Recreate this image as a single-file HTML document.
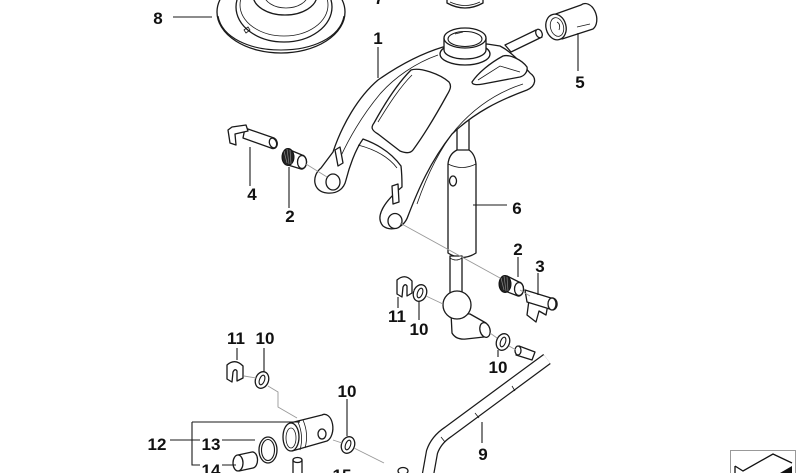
<!DOCTYPE html>
<html><head><meta charset="utf-8"><style>
html,body{margin:0;padding:0;background:#fff;}
svg{display:block;}
text{font-family:"Liberation Sans",Arial,sans-serif;font-weight:bold;font-size:17px;fill:#111;text-anchor:middle;}
.p{fill:#fff;stroke:#1a1a1a;stroke-width:1.3;stroke-linejoin:round;stroke-linecap:round;}
.l{fill:none;stroke:#1a1a1a;stroke-width:1.1;}
.t{fill:none;stroke:#1a1a1a;stroke-width:0.8;}
.c{fill:none;stroke:#999;stroke-width:0.9;}
</style></head><body>
<svg width="799" height="473" viewBox="0 0 799 473" xmlns="http://www.w3.org/2000/svg">
<!-- Part 8 boot -->
<ellipse class="p" cx="281" cy="12" rx="64" ry="41"/>
<path class="l" d="M218,16 C222,38 250,50 281,50 C312,50 340,38 344,16"/>
<ellipse class="p" cx="284" cy="7" rx="48" ry="35"/>
<ellipse class="t" cx="284" cy="5" rx="44" ry="31"/>
<ellipse class="p" cx="285" cy="-5" rx="32" ry="20"/>
<ellipse class="t" cx="286" cy="-6" rx="22" ry="14"/>
<path class="t" d="M244,30 l4,-3 l2,3 l-4,3z"/>
<!-- Part 7 -->
<path class="p" d="M447,-2 L447,3 Q465,13 483,3 L483,-2 Z"/>
<path class="t" d="M450,2 Q465,9 480,2"/>
<!-- Part 5 sleeve -->
<path class="p" d="M550,16 L581,5 A9 13 -15 0 1 593,29 L562,39 Z"/>
<ellipse class="p" cx="556" cy="27" rx="10" ry="13" transform="rotate(-15 556 27)"/>
<ellipse class="t" cx="557" cy="27" rx="6.5" ry="9.5" transform="rotate(-15 557 27)"/>
<path class="t" d="M557,22 q4,2 2,8"/>
<path class="t" d="M577,27 L590,24"/>
<!-- Part 6 rod -->
<rect class="p" x="457" y="95" width="12" height="60"/>
<path class="p" d="M457,150 Q449,154 448,164 L448,253 Q462,262 476,253 L476,164 Q475,154 469,150 Z"/>
<path class="t" d="M448,164 Q462,171 476,164"/>
<ellipse class="p" cx="453" cy="181" rx="3.5" ry="5"/>
<rect class="p" x="450" y="256" width="12" height="38"/>
<path class="t" d="M450,258 Q456,262 462,258"/>
<path class="p" d="M451,313 L452,333 Q456,340 466,339 L484,337 L486,323 L470,314 Z"/>
<ellipse class="p" cx="485" cy="330" rx="5" ry="7.5" transform="rotate(-15 485 330)"/>
<circle class="p" cx="457" cy="305" r="14"/>
<!-- Part 1 bracket -->
<path class="p" d="M443,47 C420,54 398,66 378,80 C358,97 342,125 333,152 L321,168 C311,176 313,192 327,193 C337,194 344,189 346,180 C349,168 355,150 363,139 Q388,148 401,166 C402,175 402,182 402,187 C386,200 374,216 383,226 C391,232 404,228 408,216 C418,190 430,162 452,134 C475,112 500,100 527,90 C536,86 537,78 530,73 C522,64 512,52 500,46 L487,44 Z"/>
<path class="t" d="M438,55 C415,63 394,78 380,94 C365,112 352,132 340,158"/>
<path class="t" d="M523,84 C498,92 475,107 456,129 C438,151 426,178 417,204"/>
<path class="t" d="M358,145 Q385,152 397,168"/>
<path class="p" d="M374,123 C385,103 398,83 411,70 C420,67 440,74 449,82 C452,86 450,90 447,95 C436,115 424,135 413,150 C410,154 405,153 400,151 L378,134 C371,130 371,127 374,123 Z"/>
<path class="t" d="M378,122 C389,104 400,87 412,75"/>
<path class="p" d="M335,150 l5,-3 l3,16 l-5,3 z"/>
<path class="p" d="M392,186 l6,-2 l1,18 l-6,2 z"/>
<ellipse class="p" cx="333" cy="182" rx="7" ry="8"/>
<ellipse class="p" cx="395" cy="221" rx="7" ry="7.5"/>
<path class="p" d="M472,82 C478,73 490,63 503,56 C510,54 522,60 527,67 C528,72 524,76 520,77 L483,84 C477,85 472,85 472,82 Z"/>
<path class="t" d="M478,80 L500,66 L520,72"/>
<!-- ring -->
<ellipse class="p" cx="465" cy="54" rx="25" ry="11"/>
<path class="p" d="M444,38 L444,50 A21 9 0 0 0 486,50 L486,38 Z"/>
<ellipse class="p" cx="465" cy="38" rx="21" ry="10"/>
<ellipse class="l" cx="465" cy="39" rx="17" ry="7.5"/>
<path class="t" d="M455,34 L463,32"/>
<!-- rod from ring -->
<path class="p" d="M505,45 L536,30 L542,37 L511,52 Z"/>
<ellipse class="p" cx="539" cy="33.5" rx="3" ry="4.5" transform="rotate(-25 539 33.5)"/>
<!-- Part 4 -->
<path class="p" d="M245,128 L274,138 A4.5 5.5 -20 0 1 271,148 L243,138 Z"/>
<ellipse class="p" cx="273" cy="143" rx="3.5" ry="5" transform="rotate(-20 273 143)"/>
<path class="p" d="M228,130 L230,143 L236,145 L235,134 L248,131 L246,125 L232,127 Z"/>
<!-- Part 2 upper -->
<path class="p" d="M290,150 L302,155 A5 7 0 0 1 301,169 L288,165 Z"/>
<ellipse cx="288" cy="157" rx="6" ry="8.5" fill="#222" stroke="#111"/>
<path d="M284,151 l3,12 M287,149 l2,15 M290,150 l1,14" stroke="#888" stroke-width="0.7"/>
<ellipse class="p" cx="302" cy="162" rx="4.5" ry="6.5"/>
<!-- Part 2 lower -->
<path class="p" d="M507,276 L519,282 A5 7 0 0 1 518,296 L505,291 Z"/>
<ellipse cx="505" cy="284" rx="6" ry="8.5" fill="#222" stroke="#111"/>
<path d="M501,278 l3,12 M504,276 l2,15 M507,277 l1,14" stroke="#888" stroke-width="0.7"/>
<ellipse class="p" cx="519" cy="289" rx="4.5" ry="6.5"/>
<!-- Part 3 -->
<path class="p" d="M529,300 L527,315 L536,322 L539,311 L546,315 L548,304 Z"/>
<path class="p" d="M525,290 L551,298 A5 6 0 0 1 553,310 L527,302 Z"/>
<ellipse class="p" cx="552" cy="304" rx="4" ry="6"/>
<!-- Part 11 clips -->
<path class="p" d="M397,280 L397,294 L402,297 L403,287 Q405,283 407,286 L407,296 L412,293 L412,281 Q405,273 397,280 Z"/>
<path class="p" d="M227,365 L227,379 L232,382 L233,372 Q235,368 237,371 L237,381 L243,378 L243,366 Q235,358 227,365 Z"/>
<!-- washers 10 -->
<g transform="translate(420,293) rotate(20)"><ellipse class="p" rx="6.5" ry="8.5"/><ellipse class="l" rx="2.5" ry="5"/></g>
<g transform="translate(503,342) rotate(20)"><ellipse class="p" rx="6.5" ry="8.5"/><ellipse class="l" rx="2.5" ry="5"/></g>
<g transform="translate(262,380) rotate(20)"><ellipse class="p" rx="6.5" ry="8.5"/><ellipse class="l" rx="2.5" ry="5"/></g>
<g transform="translate(348,445) rotate(20)"><ellipse class="p" rx="6.5" ry="8.5"/><ellipse class="l" rx="2.5" ry="5"/></g>
<!-- Part 9 rod -->
<path d="M427,480 L432,452 Q436,440 448,432 L547,359" fill="none" stroke="#1a1a1a" stroke-width="12.5"/>
<path d="M427,480 L432,452 Q436,440 448,432 L547,359" fill="none" stroke="#fff" stroke-width="10"/>
<path class="t" d="M441,437 l4,5 M475,413 l4,5 M512,386 l3,5"/>
<path class="p" d="M519,346 L535,352 L532,360 L516,355 Z"/>
<ellipse class="p" cx="518" cy="350.5" rx="3" ry="4.5"/>
<ellipse class="p" cx="403" cy="471" rx="5" ry="3.5"/>
<!-- Part 12 sleeve -->
<path class="p" d="M290,423 L322,415 A8 13 0 0 1 327,441 L292,451 Z"/>
<ellipse class="p" cx="291" cy="437" rx="8" ry="14"/>
<ellipse class="t" cx="291" cy="438" rx="5" ry="10"/>
<path class="t" d="M298,422 Q304,436 300,450 M303,420 Q309,434 305,448"/>
<ellipse class="p" cx="322" cy="434" rx="4" ry="5"/>
<!-- Part 13 ring -->
<ellipse class="p" cx="268" cy="450" rx="9" ry="13"/>
<ellipse class="l" cx="268" cy="450" rx="6.5" ry="10.5"/>
<!-- Part 14 -->
<path class="p" d="M238,455 L252,452 A5 8 0 0 1 253,468 L239,471 Z"/>
<ellipse class="p" cx="238" cy="463" rx="5" ry="8"/>
<!-- Part 15 -->
<path class="p" d="M293,460 L293,480 L302,480 L302,460 Z"/>
<ellipse class="p" cx="297.5" cy="460" rx="4.5" ry="2.5"/>
<!-- connectors -->
<path class="c" d="M400,223 L500,278 M520,290 L530,296"/>
<path class="c" d="M306,164 L327,177"/>
<path class="c" d="M413,290 L414,291 M426,296 L443,304"/>
<path class="c" d="M490,333 L497,338 M509,346 L516,350"/>
<path class="c" d="M244,376 L256,378 M268,386 L278,392 L278,407 L297,418"/>
<path class="c" d="M333,440 L342,443 M354,448 L384,463"/>
<!-- leader lines -->
<path class="l" d="M173,17 L212,17"/>
<path class="l" d="M378,47 L378,78"/>
<path class="l" d="M578,33 L578,71"/>
<path class="l" d="M250,147 L250,186"/>
<path class="l" d="M289,167 L289,208"/>
<path class="l" d="M473,205 L507,205"/>
<path class="l" d="M518,257 L518,277"/>
<path class="l" d="M538,273 L538,295"/>
<path class="l" d="M398,297 L398,308"/>
<path class="l" d="M419,301 L419,320"/>
<path class="l" d="M237,348 L237,360"/>
<path class="l" d="M264,348 L264,372"/>
<path class="l" d="M347,399 L347,436"/>
<path class="l" d="M498,350 L498,357"/>
<path class="l" d="M482,422 L482,443"/>
<path class="l" d="M170,440 L200,440 M192,422 L300,422 M192,422 L192,465 L200,465 M222,440 L255,440 M222,465 L236,465"/>
<!-- labels -->
<text x="158" y="24">8</text>
<text x="379" y="4">7</text>
<text x="378" y="44">1</text>
<text x="580" y="88">5</text>
<text x="252" y="200">4</text>
<text x="290" y="222">2</text>
<text x="517" y="214">6</text>
<text x="518" y="255">2</text>
<text x="540" y="272">3</text>
<text x="397" y="322">11</text>
<text x="419" y="335">10</text>
<text x="236" y="344">11</text>
<text x="265" y="344">10</text>
<text x="347" y="397">10</text>
<text x="498" y="373">10</text>
<text x="483" y="460">9</text>
<text x="157" y="450">12</text>
<text x="211" y="450">13</text>
<text x="211" y="476">14</text>
<text x="342" y="481">15</text>
<!-- icon -->
<rect x="730.5" y="450.5" width="65" height="30" fill="#fff" stroke="#999" stroke-width="1"/>
<path d="M735,466 L743,471 L773,454 L792,463" fill="none" stroke="#111" stroke-width="1.3"/>
<path d="M780,473 L792,466 L792,473 Z" fill="#111"/>
<path d="M735,466 L735,473" stroke="#111" stroke-width="1.3"/>
</svg>
</body></html>
